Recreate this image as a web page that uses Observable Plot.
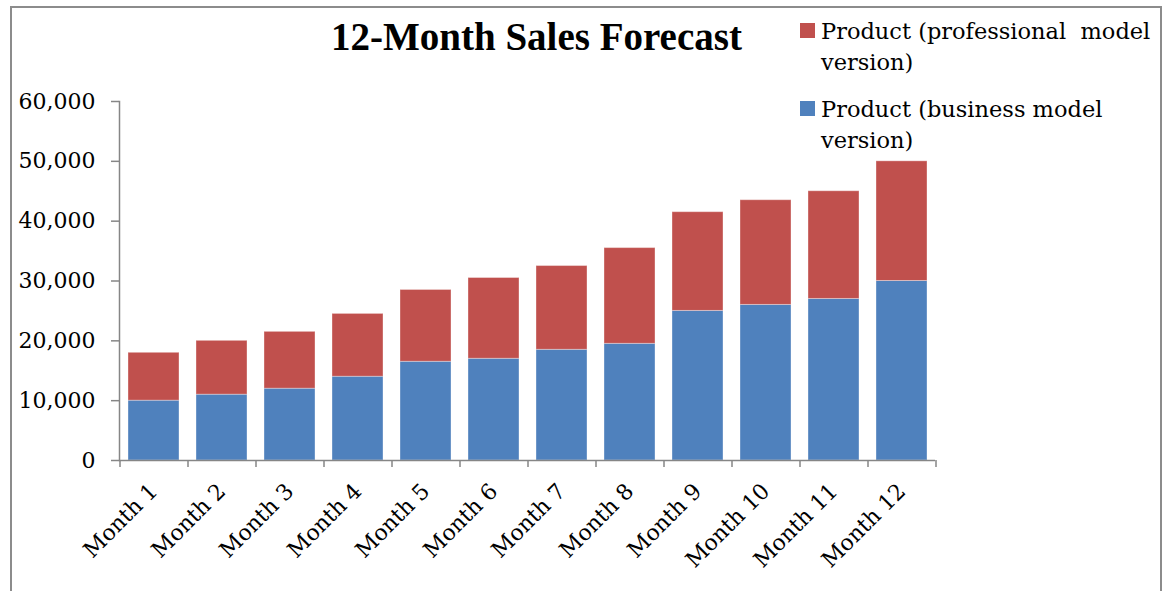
<!DOCTYPE html>
<html>
<head>
<meta charset="utf-8">
<script src="https://cdn.jsdelivr.net/npm/d3@7"></script>
<script src="https://cdn.jsdelivr.net/npm/@observablehq/plot@0.6"></script>
<style>
  body { margin: 0; background: #fff; }
  #wrap { position: relative; width: 1170px; height: 591px; overflow: hidden; background: #fff; }
  #border { position: absolute; left: 10px; top: 6px; width: 1152px; height: 700px; border: 2px solid #8c8c8c; box-sizing: border-box; }
  #chart { position: absolute; left: 0; top: 0; }
  #title { position: absolute; left: 331px; top: 17px; font-family: "Liberation Serif", serif; font-weight: bold; font-size: 39px; line-height: 39px; white-space: pre; color: #000; }
  .lg { position: absolute; left: 800px; font-family: "DejaVu Serif", serif; font-size: 22.5px; line-height: 31px; color: #000; }
  .lg .sw { position: absolute; left: 0; width: 15px; height: 15px; }
  .lg .tx { position: absolute; left: 21px; top: 0; white-space: pre; }
</style>
</head>
<body>
<div id="wrap">
  <div id="border"></div>
  <div id="chart"></div>
  <div id="title"></div>
  <div id="legend"></div>
</div>
<script>
const months = ["Month 1","Month 2","Month 3","Month 4","Month 5","Month 6","Month 7","Month 8","Month 9","Month 10","Month 11","Month 12"];
const business = [10000,11000,12000,14000,16500,17000,18500,19500,25000,26000,27000,30000];
const professional = [8000,9000,9500,10500,12000,13500,14000,16000,16500,17500,18000,20000];
const seriesNames = ["Product (business model version)", "Product (professional model version)"];
const legendLabels = ["Product (professional  model\nversion)", "Product (business model\nversion)"];
const seriesColors = ["#4F81BD", "#C0504D"];
const yTicks = [0,10000,20000,30000,40000,50000,60000];
const titleText = "12-Month Sales Forecast";

const data = months.flatMap((m, i) => [
  {month: m, series: seriesNames[0], value: business[i]},
  {month: m, series: seriesNames[1], value: professional[i]}
]);

const W = 1170, H = 591, mL = 119, mR = 235, mT = 101, mB = 131;
const step = (W - mL - mR) / months.length;
const axisColor = "#868686";
const axisFont = "'DejaVu Serif', serif";

const chart = Plot.plot({
  width: W, height: H,
  marginLeft: mL, marginRight: mR, marginTop: mT, marginBottom: mB,
  style: {fontFamily: axisFont, fontSize: "22px", color: "#000", background: "transparent"},
  x: {domain: months, paddingInner: 0.25, paddingOuter: 0.125, label: null},
  y: {domain: [0, 60000], label: null},
  color: {domain: seriesNames, range: seriesColors},
  marks: [
    Plot.barY(data, {x: "month", y: "value", fill: "series", stroke: "#ffffff", strokeOpacity: 0.35, strokeWidth: 1}),
    Plot.frame({anchor: "left", stroke: axisColor, strokeWidth: 1.5}),
    Plot.ruleY([0], {stroke: axisColor, strokeWidth: 1.5}),
    Plot.axisY({ticks: yTicks, tickFormat: d3.format(","), tickSize: 8, tickPadding: 16, stroke: axisColor, strokeWidth: 1.5, fill: "#000", fontSize: 22, label: null}),
    Plot.axisX({tickSize: 7, dx: -step / 2, tickFormat: () => "", stroke: axisColor, strokeWidth: 1.5, label: null}),
    Plot.axisX({ticks: [months[months.length - 1]], tickSize: 7, dx: step / 2, tickFormat: () => "", stroke: axisColor, strokeWidth: 1.5, label: null}),
    Plot.axisX({tickSize: 0, tickRotate: -45, tickPadding: 27, dx: 0, fontSize: 22, fill: "#000", label: null})
  ]
});
document.getElementById("chart").appendChild(chart);

document.getElementById("title").textContent = titleText;

const legend = document.getElementById("legend");
const legendOrder = [1, 0];
const tops = [16, 94];
legendOrder.forEach((si, k) => {
  const e = document.createElement("div");
  e.className = "lg";
  e.style.top = tops[k] + "px";
  const sw = document.createElement("div");
  sw.className = "sw";
  sw.style.background = seriesColors[si];
  sw.style.top = "7px";
  const tx = document.createElement("div");
  tx.className = "tx";
  tx.textContent = legendLabels[k];
  e.appendChild(sw); e.appendChild(tx);
  legend.appendChild(e);
});
</script>
</body>
</html>
